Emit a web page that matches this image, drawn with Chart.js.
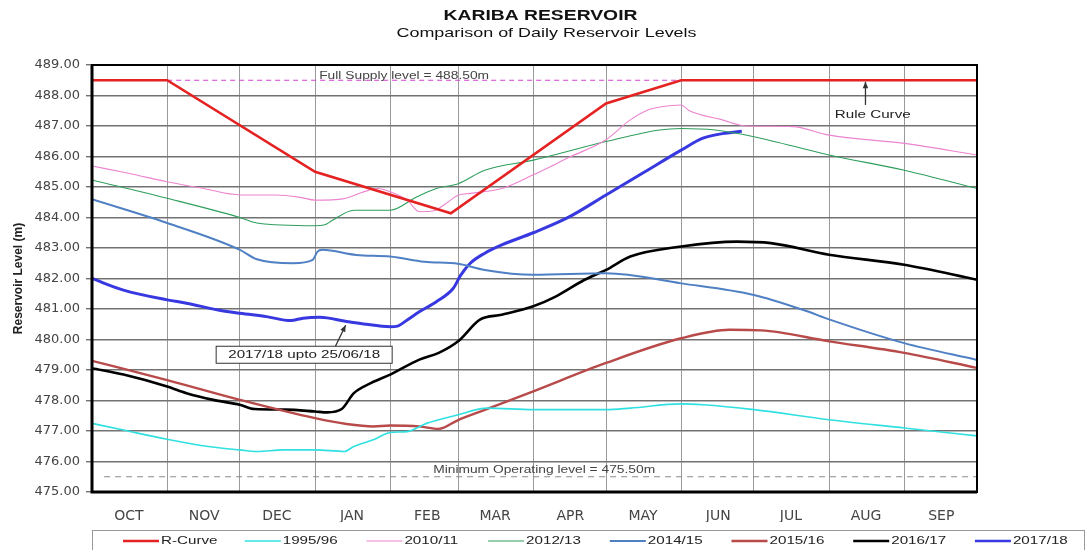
<!DOCTYPE html>
<html>
<head>
<meta charset="utf-8">
<title>Kariba Reservoir</title>
<script src="https://cdn.jsdelivr.net/npm/chart.js@4.4.1/dist/chart.umd.min.js"></script>
<style>
  html, body { margin: 0; padding: 0; background: #fff; }
  #wrap { width: 1086px; height: 550px; position: relative; }
</style>
</head>
<body>
<div id="wrap"><canvas id="levelChart"></canvas></div>
<script>
// x = days counted from 1 October, y = reservoir level (m)
const monthNames = ["OCT", "NOV", "DEC", "JAN", "FEB", "MAR", "APR", "MAY", "JUN", "JUL", "AUG", "SEP"];
const monthStarts = [0, 31, 61, 92, 123, 151, 182, 212, 243, 273, 304, 335, 365];

const rCurve = [[0, 488.5], [31, 488.5], [92, 485.5], [148, 484.14], [212, 487.74], [243, 488.5], [365, 488.5]];
const s1995 = [[0, 477.25], [13, 477.03], [31, 476.73], [48, 476.49], [61, 476.38], [68, 476.33], [79, 476.38], [92, 476.38],
  [104, 476.33], [108, 476.49], [116, 476.71], [123, 476.95], [130, 476.98], [138, 477.25], [151, 477.53], [163, 477.75],
  [182, 477.7], [212, 477.7], [222, 477.75], [243, 477.89], [252, 477.86], [273, 477.7], [304, 477.37], [335, 477.1], [365, 476.84]];
const s2010 = [[0, 485.69], [15, 485.45], [31, 485.17], [46, 484.95], [61, 484.74], [76, 484.74], [86, 484.66], [92, 484.57],
  [104, 484.62], [112, 484.84], [118, 484.95], [123, 484.84], [130, 484.57], [135, 484.19], [141, 484.22], [146, 484.46],
  [151, 484.73], [156, 484.79], [169, 484.95], [182, 485.4], [197, 485.98], [212, 486.55], [222, 487.2], [229, 487.52],
  [235, 487.63], [243, 487.69], [246, 487.52], [260, 487.2], [270, 487.0], [289, 486.98], [304, 486.7], [335, 486.43], [365, 486.05]];
const s2012 = [[0, 485.23], [31, 484.63], [61, 484.0], [68, 483.82], [92, 483.73], [96, 483.76], [99, 483.9], [108, 484.24],
  [123, 484.24], [134, 484.68], [142, 484.95], [151, 485.11], [162, 485.55], [182, 485.88], [212, 486.49], [234, 486.87],
  [243, 486.92], [257, 486.87], [273, 486.65], [304, 486.05], [335, 485.55], [365, 484.95]];
const s2014 = [[0, 484.6], [31, 483.82], [61, 482.94], [68, 482.63], [83, 482.5], [91, 482.61], [93, 482.88], [95, 482.94],
  [109, 482.77], [123, 482.72], [137, 482.55], [151, 482.48], [162, 482.28], [182, 482.12], [212, 482.17], [243, 481.84],
  [273, 481.46], [294, 480.95], [304, 480.66], [335, 479.88], [365, 479.33]];
const s2015 = [[0, 479.3], [31, 478.67], [61, 478.02], [92, 477.42], [105, 477.23], [116, 477.15], [123, 477.18], [135, 477.15],
  [143, 477.07], [151, 477.36], [162, 477.69], [182, 478.3], [212, 479.23], [243, 480.04], [263, 480.32], [276, 480.3],
  [304, 479.94], [335, 479.56], [365, 479.07]];
const s2016 = [[0, 479.06], [13, 478.85], [31, 478.46], [39, 478.24], [50, 478.02], [61, 477.86], [67, 477.72], [80, 477.7],
  [92, 477.64], [97, 477.61], [103, 477.72], [108, 478.24], [115, 478.57], [123, 478.85], [135, 479.34], [143, 479.56],
  [151, 479.94], [160, 480.65], [169, 480.81], [182, 481.09], [191, 481.4], [203, 481.95], [212, 482.28], [222, 482.72],
  [243, 483.05], [266, 483.21], [280, 483.16], [304, 482.78], [335, 482.45], [365, 481.96]];
const s2017 = [[0, 482.0], [13, 481.62], [31, 481.3], [39, 481.19], [52, 480.97], [61, 480.86], [72, 480.75], [82, 480.62],
  [87, 480.7], [94, 480.73], [105, 480.59], [112, 480.51], [123, 480.42], [126, 480.44], [130, 480.64], [135, 480.91],
  [142, 481.24], [149, 481.68], [152, 482.1], [156, 482.5], [162, 482.83], [169, 483.1], [182, 483.5], [197, 484.03],
  [212, 484.74], [227, 485.45], [243, 486.21], [252, 486.6], [260, 486.75], [268, 486.83]];

const fullSupply = [[31, 488.5], [243, 488.5]];
const minOperating = [[5, 475.5], [365, 475.5]];

const pts = (arr) => arr.map(([x, y]) => ({ x, y }));

// reference text looks horizontally stretched, so custom texts are widened
const SX = 1.38;
function wideText(ctx, text, x, y, font, color, align) {
  ctx.save();
  ctx.font = font;
  ctx.fillStyle = color;
  ctx.textBaseline = "middle";
  ctx.textAlign = align || "left";
  ctx.translate(x, y);
  ctx.scale(SX, 1);
  ctx.fillText(text, 0, 0);
  ctx.restore();
}

function arrow(ctx, x1, y1, x2, y2) {
  ctx.save();
  ctx.strokeStyle = "#333";
  ctx.fillStyle = "#333";
  ctx.lineWidth = 1.3;
  ctx.beginPath();
  ctx.moveTo(x1, y1);
  ctx.lineTo(x2, y2);
  ctx.stroke();
  const a = Math.atan2(y2 - y1, x2 - x1);
  ctx.beginPath();
  ctx.moveTo(x2, y2);
  ctx.lineTo(x2 - 7 * Math.cos(a - 0.4), y2 - 7 * Math.sin(a - 0.4));
  ctx.lineTo(x2 - 7 * Math.cos(a + 0.4), y2 - 7 * Math.sin(a + 0.4));
  ctx.closePath();
  ctx.fill();
  ctx.restore();
}

const extras = {
  id: "extras",
  afterDraw(chart) {
    const { ctx, chartArea: a, scales: { x, y } } = chart;

    // frame
    ctx.save();
    ctx.strokeStyle = "#000";
    ctx.lineWidth = 2;
    ctx.strokeRect(a.left, a.top, a.right - a.left, a.bottom - a.top);
    ctx.lineWidth = 3;
    ctx.beginPath();
    ctx.moveTo(a.left, a.top);
    ctx.lineTo(a.left, a.bottom);
    ctx.lineTo(a.right, a.bottom);
    ctx.stroke();
    ctx.restore();

    // titles
    const cx = (a.left + a.right) / 2;
    wideText(ctx, "KARIBA RESERVOIR", cx + 6, 16, "bold 14px 'Liberation Sans'", "#111", "center");
    wideText(ctx, "Comparison of Daily Reservoir Levels", cx + 12, 33, "13px 'Liberation Sans'", "#111", "center");

    // level notes
    wideText(ctx, "Full Supply level = 488.50m", x.getPixelForValue(93.7), y.getPixelForValue(488.64), "10px 'Liberation Sans'", "#444");
    wideText(ctx, "Minimum Operating level = 475.50m", x.getPixelForValue(140.7), y.getPixelForValue(475.7), "10px 'Liberation Sans'", "#444");

    // rule curve note
    const rx = x.getPixelForValue(319);
    arrow(ctx, rx, y.getPixelForValue(487.69), rx, y.getPixelForValue(488.45));
    wideText(ctx, "Rule Curve", x.getPixelForValue(322), y.getPixelForValue(487.36), "11px 'Liberation Sans'", "#222", "center");

    // 2017/18 note box
    const bx = x.getPixelForValue(87.5), by = y.getPixelForValue(479.5);
    ctx.save();
    ctx.fillStyle = "#fff";
    ctx.strokeStyle = "#333";
    ctx.lineWidth = 1;
    ctx.fillRect(bx - 88, by - 8.5, 176, 17);
    ctx.strokeRect(bx - 88, by - 8.5, 176, 17);
    ctx.restore();
    wideText(ctx, "2017/18 upto 25/06/18", bx, by, "11px 'Liberation Sans'", "#222", "center");
    arrow(ctx, x.getPixelForValue(100.4), by - 8.5, x.getPixelForValue(104.6), y.getPixelForValue(480.47));

    // legend
    ctx.save();
    ctx.strokeStyle = "#999";
    ctx.lineWidth = 1;
    ctx.strokeRect(92.5, 530.5, 992, 30);
    ctx.restore();
    chart.data.datasets.filter(ds => !ds.isRef).forEach((ds, i) => {
      const lx = 123 + i * 121.7;
      ctx.save();
      ctx.strokeStyle = ds.borderColor;
      ctx.lineWidth = Math.min(ds.borderWidth, 2.5);
      ctx.beginPath();
      ctx.moveTo(lx, 541);
      ctx.lineTo(lx + 36, 541);
      ctx.stroke();
      ctx.restore();
      wideText(ctx, ds.label, lx + 38, 541, "11px 'Liberation Sans'", "#222");
    });
  }
};

const levelCanvas = document.getElementById("levelChart").getContext("2d");
const levelChart = new Chart(levelCanvas, {
  type: "line",
  data: {
    datasets: [
      { label: "R-Curve", data: pts(rCurve), borderColor: "#e42222", borderWidth: 2.6, tension: 0 },
      { label: "1995/96", data: pts(s1995), borderColor: "#30e0e0", borderWidth: 1.6, cubicInterpolationMode: "monotone" },
      { label: "2010/11", data: pts(s2010), borderColor: "#ec84cf", borderWidth: 1.1, cubicInterpolationMode: "monotone" },
      { label: "2012/13", data: pts(s2012), borderColor: "#2e9e5c", borderWidth: 1.1, cubicInterpolationMode: "monotone" },
      { label: "2014/15", data: pts(s2014), borderColor: "#4f80c4", borderWidth: 2, cubicInterpolationMode: "monotone" },
      { label: "2015/16", data: pts(s2015), borderColor: "#b84a4a", borderWidth: 2.4, cubicInterpolationMode: "monotone" },
      { label: "2016/17", data: pts(s2016), borderColor: "#000000", borderWidth: 2.6, cubicInterpolationMode: "monotone" },
      { label: "2017/18", data: pts(s2017), borderColor: "#3838e0", borderWidth: 3, cubicInterpolationMode: "monotone" },
      { label: "Full Supply", isRef: true, data: pts(fullSupply), borderColor: "#d040d0", borderWidth: 1, borderDash: [5, 4] },
      { label: "Minimum Operating", isRef: true, data: pts(minOperating), borderColor: "#8a8a8a", borderWidth: 1.2, borderDash: [6, 5] },
    ],
  },
  options: {
    responsive: true,
    maintainAspectRatio: false,
    animation: false,
    layout: { padding: { top: 65, right: 109, bottom: 28, left: 7 } },
    elements: { point: { radius: 0 } },
    plugins: {
      legend: { display: false },
      tooltip: { enabled: false },
    },
    scales: {
      x: {
        type: "linear",
        min: 0,
        max: 365,
        afterBuildTicks: (s) => { s.ticks = monthStarts.map(v => ({ value: v })); },
        afterFit: (s) => { s.height = 30; },
        grid: { color: "#9a9a9a", lineWidth: 1, drawTicks: false },
        border: { display: false },
        ticks: {
          autoSkip: false,
          maxRotation: 0,
          padding: 16,
          labelOffset: 37,
          color: "#444",
          font: { family: "DejaVu Sans", size: 14 },
          callback: (v, i) => monthNames[i] || "",
        },
      },
      y: {
        min: 475,
        max: 489,
        afterFit: (s) => { s.width = 85; },
        grid: { color: "#727272", lineWidth: 1.4, tickLength: 6 },
        border: { display: false },
        ticks: {
          stepSize: 1,
          padding: 6,
          color: "#444",
          font: { family: "DejaVu Sans", size: 13 },
          callback: (v) => v.toFixed(2),
        },
        title: {
          display: true,
          text: "Reservoir Level (m)",
          color: "#222",
          padding: { top: 4, bottom: 0 },
          font: { family: "Liberation Sans", size: 12, weight: "bold" },
        },
      },
    },
  },
  plugins: [extras],
});
</script>
